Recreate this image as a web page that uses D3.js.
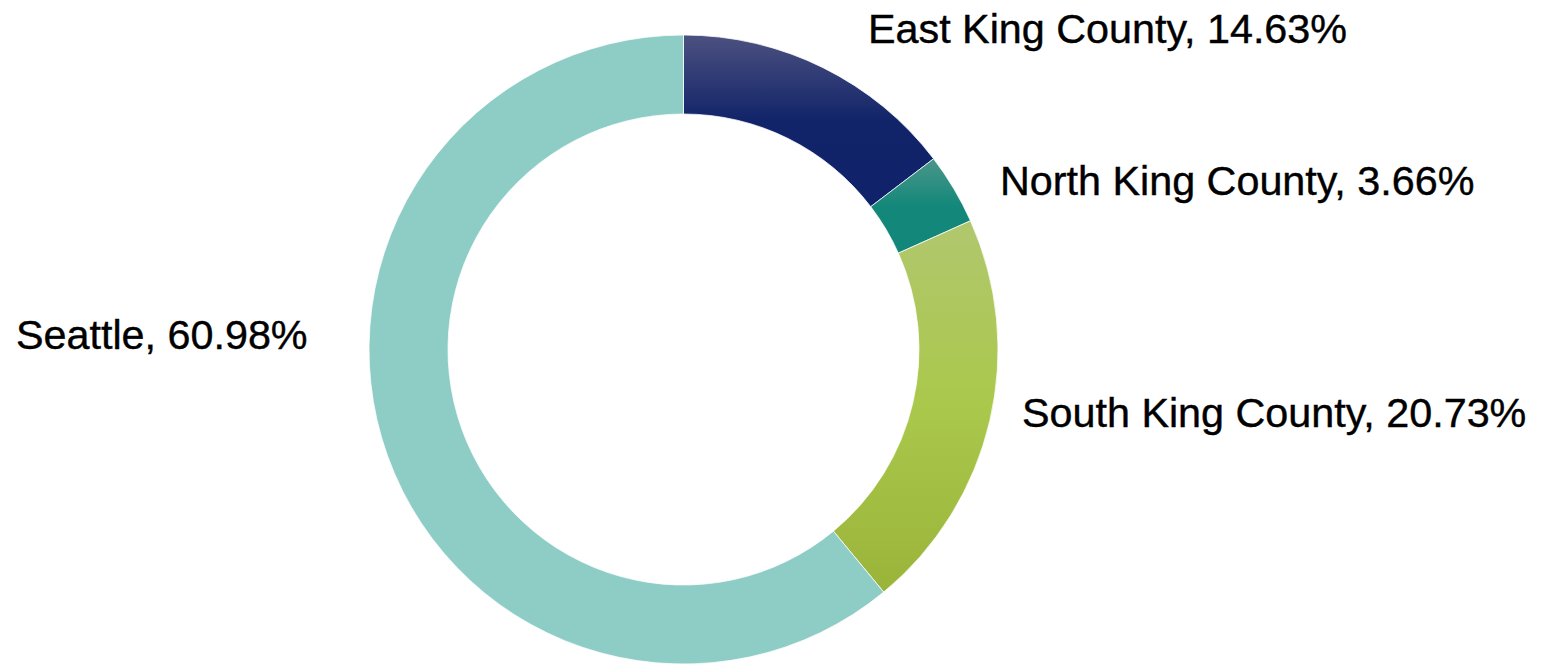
<!DOCTYPE html>
<html>
<head>
<meta charset="utf-8">
<script src="https://cdn.jsdelivr.net/npm/d3@7/dist/d3.min.js"></script>
<style>
  html, body { margin: 0; padding: 0; background: #ffffff; }
  svg { display: block; }
</style>
</head>
<body>
<svg id="chart" width="1542" height="665"></svg>
<script>
// Share of total by region
const regions = ["East King County", "North King County", "South King County", "Seattle"];
const shares = [14.63, 3.66, 20.73, 60.98];

// Per-slice vertical gradient stops (top, middle, bottom)
const gradTop = ["#4c5180", "#4b968a", "#b1c76e", "#8ecdc6"];
const gradMid = ["#112469", "#13887a", "#aac84b", "#8ecdc6"];
const gradBottom = ["#10226a", "#13867a", "#9ab43a", "#8ecdc6"];

// Label anchors (text start x, baseline y)
const labelX = [868, 1000, 1022, 16];
const labelY = [43, 195, 427, 349];

const width = 1542, height = 665;
const cx = 683.5, cy = 349.5;
const outerR = 314.5, innerR = 235.5;

const svg = d3.select("#chart");
const defs = svg.append("defs");

regions.forEach((r, i) => {
  const g = defs.append("linearGradient")
    .attr("id", "grad" + i)
    .attr("x1", 0).attr("y1", 0).attr("x2", 0).attr("y2", 1);
  g.append("stop").attr("offset", "0%").attr("stop-color", gradTop[i]);
  g.append("stop").attr("offset", "50%").attr("stop-color", gradMid[i]);
  g.append("stop").attr("offset", "100%").attr("stop-color", gradBottom[i]);
});

const pie = d3.pie().sort(null).value(d => d);
const arc = d3.arc().innerRadius(innerR).outerRadius(outerR);

const g = svg.append("g").attr("transform", `translate(${cx},${cy})`);

g.selectAll("path.slice")
  .data(pie(shares))
  .join("path")
  .attr("class", "slice")
  .attr("d", arc)
  .attr("fill", (d, i) => `url(#grad${i})`)
  .attr("stroke", "#ffffff")
  .attr("stroke-width", 0.75);

svg.selectAll("text.label")
  .data(regions)
  .join("text")
  .attr("class", "label")
  .attr("x", (d, i) => labelX[i])
  .attr("y", (d, i) => labelY[i])
  .attr("font-family", "'Liberation Sans', Arial, sans-serif")
  .attr("font-size", 41.3)
  .attr("fill", "#000000")
  .attr("stroke", "#000000")
  .attr("stroke-width", 0.4)
  .text((d, i) => `${d}, ${shares[i].toFixed(2)}%`);
</script>
</body>
</html>
